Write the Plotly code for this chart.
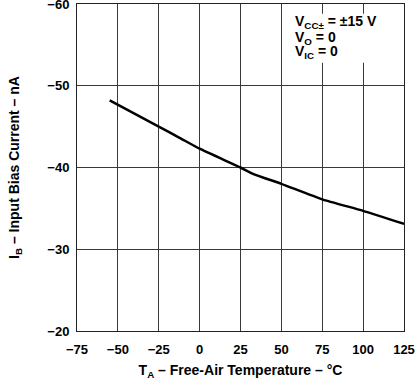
import plotly.graph_objects as go

temp_c = [-55, -25, -12, 0, 25, 33, 50, 75, 100, 125]
bias_na = [-48.2, -45.0, -43.6, -42.3, -40.0, -39.2, -38.0, -36.1, -34.7, -33.1]

x_ticks = [-75, -50, -25, 0, 25, 50, 75, 100, 125]
x_labels = ["\u221275", "\u221250", "\u221225", "0", "25", "50", "75", "100", "125"]
y_ticks = [-60, -50, -40, -30, -20]
y_labels = ["\u221260", "\u221250", "\u221240", "\u221230", "\u221220"]

cond_lines = ["V<sub>CC\u00b1</sub> = \u00b115 V", "V<sub>O</sub> = 0", "V<sub>IC</sub> = 0"]

FONT = "Liberation Sans, Arial, Helvetica, sans-serif"

fig = go.Figure()
fig.add_trace(go.Scatter(x=temp_c, y=bias_na, mode="lines",
                         line=dict(color="black", width=2.5, shape="spline", smoothing=0.5),
                         hoverinfo="skip", showlegend=False))

axis_common = dict(showgrid=True, gridcolor="#3a3a3a", gridwidth=1,
                   showline=True, linecolor="#222", linewidth=1, mirror=True,
                   ticks="", zeroline=False, automargin=False,
                   ticklabeloverflow="allow",
                   tickfont=dict(family=FONT, size=13, color="black", weight="bold"))

annotations = []
for txt, yp in zip(cond_lines, [0.945, 0.897, 0.853]):
    annotations.append(dict(xref="paper", yref="paper", x=0.66, y=yp,
                            xanchor="left", yanchor="middle", align="left",
                            showarrow=False, text=txt,
                            font=dict(family=FONT, size=14, color="black", weight="bold")))

fig.update_layout(
    width=416, height=380,
    margin=dict(l=77, r=12, t=4, b=49),
    paper_bgcolor="white", plot_bgcolor="white",
    font=dict(family=FONT, size=13, color="black", weight="bold"),
    xaxis=dict(range=[-75, 125], tickvals=x_ticks, ticktext=x_labels,
               ticklabelstandoff=6,
               title=dict(text="T<sub>A</sub> \u2013 Free-Air Temperature \u2013 \u00b0C",
                          font=dict(family=FONT, size=14, weight="bold"), standoff=11),
               **axis_common),
    yaxis=dict(range=[-20, -60], tickvals=y_ticks, ticktext=y_labels,
               ticklabelstandoff=4,
               title=dict(text="I<sub>B</sub> \u2013 Input Bias Current \u2013 nA",
                          font=dict(family=FONT, size=14, weight="bold"), standoff=24),
               **axis_common),
    shapes=[dict(type="rect", xref="paper", yref="paper", layer="above",
                 x0=0.637, x1=0.99, y0=0.82, y1=0.97,
                 fillcolor="white", line=dict(width=0))],
    annotations=annotations,
)

fig.write_html("out.html", config={"displayModeBar": False},
               post_script="document.body.style.margin='0';document.body.style.overflow='hidden';")
